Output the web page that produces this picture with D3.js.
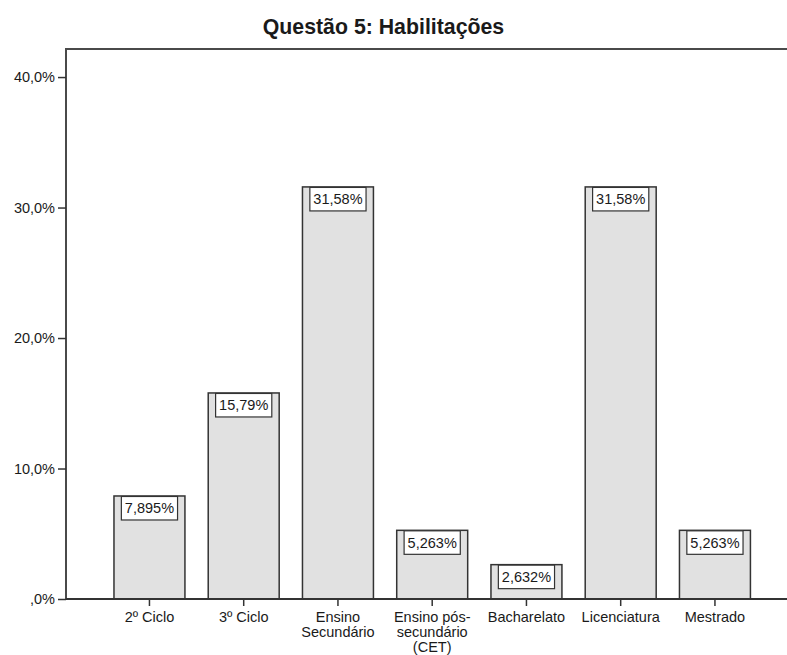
<!DOCTYPE html>
<html>
<head>
<meta charset="utf-8">
<script src="https://cdn.jsdelivr.net/npm/d3@7"></script>
<style>
  html, body { margin: 0; padding: 0; background: #fff; }
  svg { display: block; }
  text { font-family: "Liberation Sans", Arial, sans-serif; fill: #1a1a1a; }
</style>
</head>
<body>
<svg id="chart" width="787" height="655"></svg>
<script>
// Habilitações — percentage of respondents by qualification level
const title = "Questão 5: Habilitações";
const categories = [
  ["2º Ciclo"],
  ["3º Ciclo"],
  ["Ensino", "Secundário"],
  ["Ensino pós-", "secundário", "(CET)"],
  ["Bacharelato"],
  ["Licenciatura"],
  ["Mestrado"]
];
const percentages = [7.895, 15.79, 31.58, 5.263, 2.632, 31.58, 5.263];
const yTicks = [0, 10, 20, 30, 40];
const yTickLabels = [",0%", "10,0%", "20,0%", "30,0%", "40,0%"];
const yDomainMax = 42.15;

const svg = d3.select("#chart");
const frame = { left: 66, right: 798.4, top: 49, bottom: 599 };

const keys = categories.map((c, i) => i);
const x = d3.scaleBand()
  .domain(keys)
  .range([frame.left, frame.right])
  .paddingInner(0.247)
  .paddingOuter(0.509);

const y = d3.scaleLinear()
  .domain([0, yDomainMax])
  .range([frame.bottom, frame.top]);

// Title
svg.append("text")
  .attr("x", 383.5)
  .attr("y", 34)
  .attr("text-anchor", "middle")
  .style("font-size", "21.3px")
  .style("font-weight", "bold")
  .text(title);

// Bars
const fmt = v => d3.format(".4")(v).replace(".", ",") + "%";

const bars = svg.append("g").selectAll("g")
  .data(percentages)
  .join("g");

bars.append("rect")
  .attr("x", (d, i) => x(i))
  .attr("y", d => y(d))
  .attr("width", x.bandwidth())
  .attr("height", d => y(0) - y(d))
  .attr("fill", "#e1e1e1")
  .attr("stroke", "#333")
  .attr("stroke-width", 1.5);

// Value labels in boxes at the top of each bar
bars.each(function(d, i) {
  const g = d3.select(this);
  const cx = x(i) + x.bandwidth() / 2;
  const t = g.append("text")
    .attr("x", cx)
    .attr("y", y(d) + 17.5)
    .attr("text-anchor", "middle")
    .style("font-size", "14.5px")
    .text(fmt(d));
  const w = t.node().getComputedTextLength() + 7;
  g.insert("rect", "text")
    .attr("x", cx - w / 2)
    .attr("y", y(d) + 0.5)
    .attr("width", w)
    .attr("height", 23.5)
    .attr("fill", "#fff")
    .attr("stroke", "#333")
    .attr("stroke-width", 1.2);
});

// Frame (left, top, bottom)
svg.append("path")
  .attr("d", `M${frame.left},${frame.bottom}V${frame.top}H${frame.right}`)
  .attr("fill", "none")
  .attr("stroke", "#4a4a4a")
  .attr("stroke-width", 2);

// Y axis
const yAxis = d3.axisLeft(y)
  .tickValues(yTicks)
  .tickSize(8)
  .tickPadding(3)
  .tickFormat((d, i) => yTickLabels[i]);

const gy = svg.append("g")
  .attr("transform", `translate(${frame.left},0)`)
  .call(yAxis);
gy.select(".domain").remove();
gy.selectAll(".tick line").attr("stroke", "#333").attr("stroke-width", 1.5);
gy.selectAll(".tick text")
  .style("font-size", "14.5px")
  .style("font-family", "'Liberation Sans', Arial, sans-serif")
  .attr("fill", "#1a1a1a");

// X axis
const xAxis = d3.axisBottom(x)
  .tickSize(7)
  .tickFormat("");

const gx = svg.append("g")
  .attr("transform", `translate(0,${frame.bottom})`)
  .call(xAxis);
gx.select(".domain")
  .attr("d", `M${frame.left},0H${frame.right}`)
  .attr("stroke", "#333")
  .attr("stroke-width", 2);
gx.selectAll(".tick line").attr("stroke", "#333").attr("stroke-width", 1.5);

gx.selectAll(".tick").each(function(d) {
  const t = d3.select(this).append("text")
    .attr("text-anchor", "middle")
    .attr("fill", "#1a1a1a")
    .style("font-size", "14.5px")
    .style("font-family", "'Liberation Sans', Arial, sans-serif");
  categories[d].forEach((line, j) => {
    t.append("tspan")
      .attr("x", 0)
      .attr("y", 23 + j * 15)
      .text(line);
  });
});
</script>
</body>
</html>
